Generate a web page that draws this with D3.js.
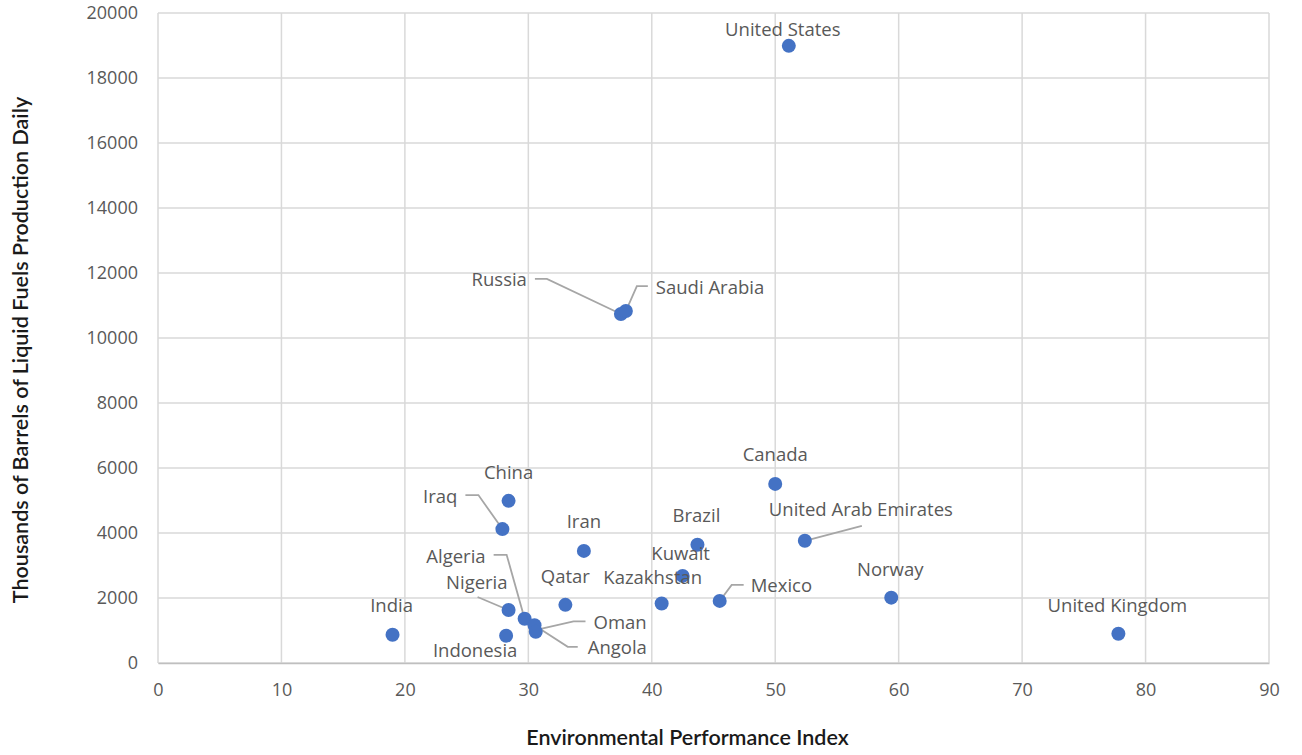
<!DOCTYPE html>
<html><head><meta charset="utf-8">
<script src="https://cdn.jsdelivr.net/npm/d3@7"></script>
<style>
body{margin:0;background:#fff;}
svg{display:block;}
</style></head>
<body>
<svg id="chart" width="1302" height="755"></svg>
<script>
const countries = ["United States","Russia","Saudi Arabia","Canada","China","Iraq","Iran","Brazil","United Arab Emirates","Kuwait","Kazakhstan","Mexico","Norway","United Kingdom","India","Indonesia","Nigeria","Algeria","Oman","Angola","Qatar"];
const epi = [51.1,37.5,37.9,50.0,28.4,27.9,34.5,43.7,52.4,42.5,40.8,45.5,59.4,77.8,19.0,28.2,28.4,29.7,30.5,30.6,33.0];
const production = [18990,10740,10830,5510,4990,4120,3450,3640,3760,2680,1830,1910,2010,900,870,840,1630,1360,1160,960,1790];
const xTicks = [0,10,20,30,40,50,60,70,80,90];
const yTicks = [0,2000,4000,6000,8000,10000,12000,14000,16000,18000,20000];
const labelPos = {
 "United States":{dx:-6,dy:-16,a:"middle"},
 "Russia":{dx:-94,dy:-34,a:"end",lead:[[-86,-35],[-74,-35],[0,0]]},
 "Saudi Arabia":{dx:30,dy:-24,a:"start",lead:[[22,-25],[11,-25],[0,0]]},
 "Canada":{dx:0,dy:-29,a:"middle"},
 "China":{dx:0,dy:-28,a:"middle"},
 "Iraq":{dx:-45,dy:-33,a:"end",lead:[[-37,-34],[-24,-34],[0,0]]},
 "Iran":{dx:0,dy:-29,a:"middle"},
 "Brazil":{dx:-1,dy:-29,a:"middle"},
 "United Arab Emirates":{dx:56,dy:-31,a:"middle",lead:[[57,-15],[0,0]]},
 "Kuwait":{dx:-2,dy:-22,a:"middle"},
 "Kazakhstan":{dx:-9,dy:-26,a:"middle"},
 "Mexico":{dx:31,dy:-15,a:"start",lead:[[24,-16],[12,-16],[0,0]]},
 "Norway":{dx:-1,dy:-28,a:"middle"},
 "United Kingdom":{dx:-1,dy:-28,a:"middle"},
 "India":{dx:-1,dy:-29,a:"middle"},
 "Indonesia":{dx:-31,dy:15,a:"middle"},
 "Nigeria":{dx:-1,dy:-28,a:"end",lead:[[-31,-13],[-5,-2]]},
 "Algeria":{dx:-39,dy:-62,a:"end",lead:[[-31,-64],[-18,-64],[0,0]]},
 "Oman":{dx:59,dy:-3,a:"start",lead:[[51,-4],[39,-4],[4,4]]},
 "Angola":{dx:52,dy:16,a:"start",lead:[[42,15],[32,15],[1,-5]]},
 "Qatar":{dx:0,dy:-28,a:"middle"}
};

const svg = d3.select("#chart");
const m = {l:158, r:1269, t:13, b:663};
const x = d3.scaleLinear().domain([0,90]).range([m.l,m.r]);
const y = d3.scaleLinear().domain([0,20000]).range([m.b,m.t]);
const grid = "#d9d9d9";

svg.append("g").selectAll("line").data(xTicks).join("line")
 .attr("x1",d=>x(d)).attr("x2",d=>x(d)).attr("y1",m.t).attr("y2",m.b)
 .attr("stroke",grid).attr("stroke-width",1.5);
svg.append("g").selectAll("line").data(yTicks).join("line")
 .attr("x1",m.l).attr("x2",m.r).attr("y1",d=>y(d)).attr("y2",d=>y(d))
 .attr("stroke",grid).attr("stroke-width",1.5);

const xa = svg.append("g").attr("transform",`translate(0,${m.b})`)
 .call(d3.axisBottom(x).tickValues(xTicks).tickSize(0).tickPadding(20).tickFormat(d3.format("d")));
xa.select(".domain").attr("stroke","#bfbfbf").attr("stroke-width",1.5);
const ya = svg.append("g").attr("transform",`translate(${m.l},0)`)
 .call(d3.axisLeft(y).tickValues(yTicks).tickSize(0).tickPadding(20).tickFormat(d3.format("d")));
ya.select(".domain").remove();
svg.selectAll(".tick text").attr("font-family","Open Sans, sans-serif").attr("font-size",18).attr("fill","#595959");

svg.append("text").attr("x",(m.l+m.r)/2 - 26).attr("y",745).attr("text-anchor","middle")
 .attr("font-family","Lato, sans-serif").attr("font-weight",600).attr("font-size",21.5).attr("fill","#1a1a1a")
 .text("Environmental Performance Index");
svg.append("text").attr("transform","translate(28,350) rotate(-90)").attr("text-anchor","middle")
 .attr("font-family","Lato, sans-serif").attr("font-weight",600).attr("font-size",21.5).attr("fill","#1a1a1a")
 .text("Thousands of Barrels of Liquid Fuels Production Daily");

const data = countries.map((c,i)=>({c, ex:epi[i], p:production[i]}));

const lg = svg.append("g");
data.forEach(d=>{
 const L = labelPos[d.c];
 if(L && L.lead){
   const px=x(d.ex), py=y(d.p);
   lg.append("path").attr("d", d3.line()(L.lead.map(q=>[px+q[0],py+q[1]])))
    .attr("fill","none").attr("stroke","#a6a6a6").attr("stroke-width",1.8);
 }
});

svg.append("g").selectAll("circle").data(data).join("circle")
 .attr("cx",d=>x(d.ex)).attr("cy",d=>y(d.p)).attr("r",7).attr("fill","#4472c4");

svg.append("g").selectAll("text").data(data).join("text")
 .attr("x",d=>x(d.ex)+labelPos[d.c].dx).attr("y",d=>y(d.p)+labelPos[d.c].dy)
 .attr("dy","0.35em")
 .attr("text-anchor",d=>labelPos[d.c].a)
 .attr("font-family","Open Sans, sans-serif").attr("font-size",18.5).attr("fill","#595959")
 .text(d=>d.c);
</script>
</body></html>
